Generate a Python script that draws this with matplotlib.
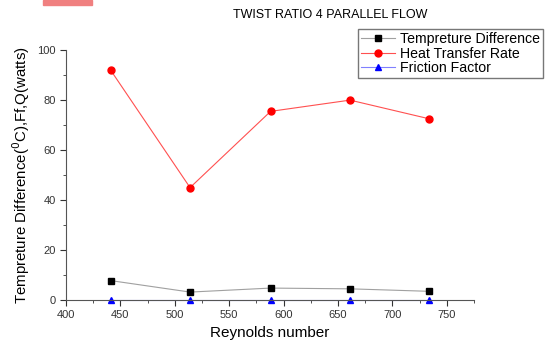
import matplotlib.pyplot as plt
from matplotlib.patches import Rectangle
from matplotlib.ticker import MultipleLocator

plt.rcParams['font.family'] = ['Liberation Sans', 'DejaVu Sans']

reynolds = [441, 514, 588, 661, 734]
temp_diff = [7.8, 3.2, 4.8, 4.5, 3.5]
heat_rate = [92, 45, 75.5, 80, 72.5]
friction = [0.05, 0.05, 0.05, 0.05, 0.05]

fig = plt.figure(figsize=(5.5, 3.41), dpi=100)
ax = fig.add_axes([0.12, 0.12, 0.742, 0.733])

ax.plot(reynolds, temp_diff, '-s', color='#a0a0a0', lw=0.8, mfc='black', mec='black', ms=5,
        label='Tempreture Difference')
ax.plot(reynolds, heat_rate, '-o', color='#ff5050', lw=0.8, mfc='red', mec='red', ms=5,
        label='Heat Transfer Rate')
ax.plot(reynolds, friction, '-^', color='#8080ff', lw=0.8, mfc='blue', mec='blue', ms=5,
        label='Friction Factor', clip_on=False)

ax.set_xlim(400, 775)
ax.set_ylim(0, 100)
ax.xaxis.set_major_locator(MultipleLocator(50))
ax.xaxis.set_minor_locator(MultipleLocator(25))
ax.yaxis.set_major_locator(MultipleLocator(20))
ax.yaxis.set_minor_locator(MultipleLocator(10))
ax.tick_params(which='both', direction='out', labelsize=8, colors='#333333')
ax.tick_params(which='major', length=4)
ax.tick_params(which='minor', length=2)
for s in ['top', 'right']:
    ax.spines[s].set_visible(False)
for s in ['left', 'bottom']:
    ax.spines[s].set_color('#555555')

ax.set_xlabel('Reynolds number', fontsize=11)
ax.set_ylabel('Tempreture Difference($^0$C),Ff,Q(watts)', fontsize=10.8)
fig.text(0.6, 0.955, 'TWIST RATIO 4 PARALLEL FLOW', ha='center', va='center', fontsize=9)

fig.legend(loc='upper left', bbox_to_anchor=(358 / 550, 1 - 29 / 341), fontsize=10.2,
           frameon=True, fancybox=False, edgecolor='#555555', borderpad=0.2,
           labelspacing=0.05, handlelength=2.4, handletextpad=0.4, borderaxespad=0)

fig.patches.append(Rectangle((43 / 550, 1 - 5 / 341), 49 / 550, 5 / 341,
                             transform=fig.transFigure, color='#f08080'))

fig.savefig('out.png', dpi=100)
